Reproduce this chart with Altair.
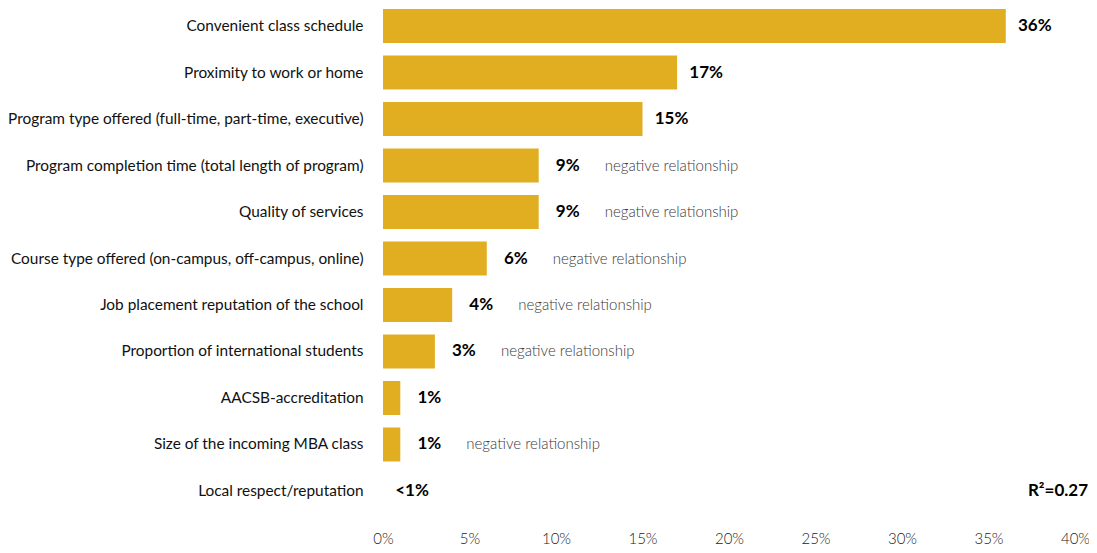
import altair as alt
import pandas as pd

categories = [
    "Convenient class schedule",
    "Proximity to work or home",
    "Program type offered (full-time, part-time, executive)",
    "Program completion time (total length of program)",
    "Quality of services",
    "Course type offered (on-campus, off-campus, online)",
    "Job placement reputation of the school",
    "Proportion of international students",
    "AACSB-accreditation",
    "Size of the incoming MBA class",
    "Local respect/reputation",
]
values = [36, 17, 15, 9, 9, 6, 4, 3, 1, 1, 0]
value_labels = ["36%", "17%", "15%", "9%", "9%", "6%", "4%", "3%", "1%", "1%", "<1%"]
notes = ["", "", "", "negative relationship", "negative relationship",
         "negative relationship", "negative relationship", "negative relationship",
         "", "negative relationship", ""]
r2_text = "R²=0.27"
x_ticks = [0, 5, 10, 15, 20, 25, 30, 35, 40]

df = pd.DataFrame({"cat": categories, "val": values, "lab": value_labels, "note": notes})

FONT = "Lato"

y_enc = alt.Y("cat:N", sort=categories, title=None,
              scale=alt.Scale(paddingInner=0.2688, paddingOuter=0),
              axis=alt.Axis(domain=False, ticks=False, labelPadding=20, labelFontSize=15.4,
                            labelColor="#111111", labelFont=FONT, labelLimit=0))
x_enc = alt.X("val:Q", title=None,
              scale=alt.Scale(domain=[0, 40], nice=False, zero=True),
              axis=alt.Axis(values=x_ticks, labelExpr="datum.value + '%'", domain=False,
                            ticks=False, grid=False, labelPadding=23, labelFontSize=15,
                            labelFlush=False, labelColor="#222222", labelFont=FONT,
                            labelFontWeight=300))

base = alt.Chart(df)

bars = base.mark_bar(color="#E1AE22").encode(x=x_enc, y=y_enc)

labels = base.mark_text(align="center", baseline="middle", dx=29, fontSize=17,
                        fontWeight="bold", font=FONT, color="#000000").encode(
    x=alt.X("val:Q"), y=alt.Y("cat:N", sort=categories), text="lab:N")

note_text = base.mark_text(align="left", baseline="middle", dx=66, fontSize=15,
                           fontWeight=300, font=FONT, color="#3a3a3a").encode(
    x=alt.X("val:Q"), y=alt.Y("cat:N", sort=categories), text="note:N")

r2_df = pd.DataFrame({"x": [40], "cat": [categories[-1]], "t": [r2_text]})
r2 = alt.Chart(r2_df).mark_text(align="right", baseline="middle", dx=13, fontSize=17,
                                fontWeight="bold", font=FONT, color="#000000").encode(
    x=alt.X("x:Q"), y=alt.Y("cat:N", sort=categories), text="t:N")

chart = alt.layer(bars, labels, note_text, r2).properties(
    width=692, height=499,
    autosize=alt.AutoSizeParams(type="none"),
    padding={"left": 375, "top": 1, "right": 14, "bottom": 37},
).configure(background="white").configure_view(stroke=None)

chart.save("out.html", embed_options={"renderer": "svg", "actions": False})
